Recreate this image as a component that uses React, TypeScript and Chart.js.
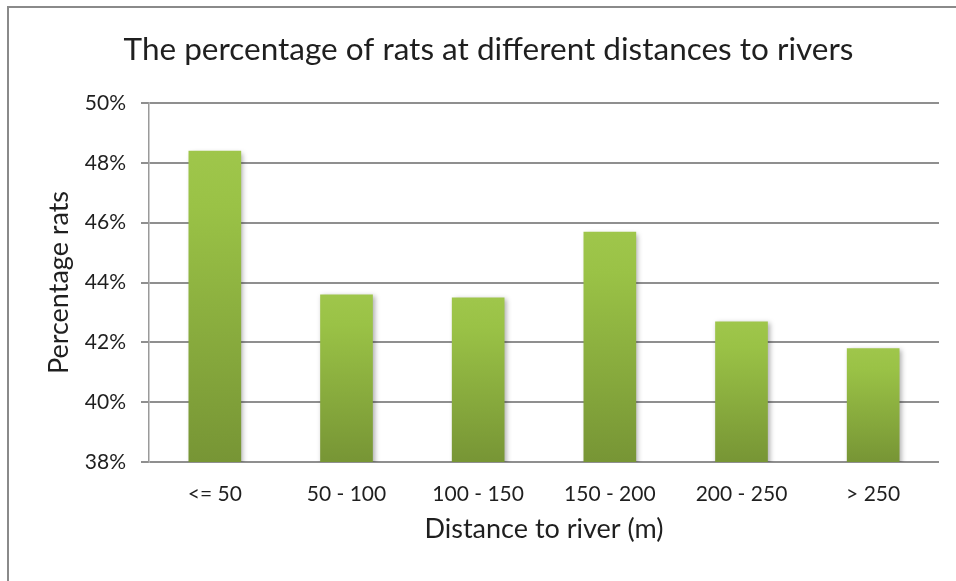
import React, { useEffect, useRef } from "react";
import { Chart, registerables } from "chart.js";

Chart.register(...registerables);

// Share of rats found in each distance band from the nearest river
const distanceBands: string[] = ["<= 50", "50 - 100", "100 - 150", "150 - 200", "200 - 250", "> 250"];
const ratPercent: number[] = [48.4, 43.6, 43.5, 45.7, 42.7, 41.8];

const yMin = 38;
const yMax = 50;
const yStep = 2;

const CANVAS_W = 959;
const CANVAS_H = 590;
const FONT = "Lato, 'Open Sans', sans-serif";
const TEXT = "#1f1f1f";
const GRID = "#8f8f8f";

// Soft drop shadow behind the bars
const barShadow = {
  id: "barShadow",
  beforeDatasetsDraw(chart: any) {
    const ctx = chart.ctx;
    ctx.save();
    ctx.shadowColor = "rgba(0,0,0,0.32)";
    ctx.shadowBlur = 5;
    ctx.shadowOffsetX = 2;
    ctx.shadowOffsetY = 2;
  },
  afterDatasetsDraw(chart: any) {
    chart.ctx.restore();
  },
};

export default function App() {
  const canvasRef = useRef<HTMLCanvasElement | null>(null);

  useEffect(() => {
    const canvas = canvasRef.current;
    if (!canvas) return;

    const chart = new Chart(canvas, {
      type: "bar",
      data: {
        labels: distanceBands,
        datasets: [
          {
            data: ratPercent,
            barPercentage: 0.4,
            categoryPercentage: 1,
            borderWidth: 0,
            backgroundColor: (c: any) => {
              const ch = c.chart;
              const area = ch.chartArea;
              if (!area || c.type !== "data") return "#8db040";
              const y = ch.scales.y;
              const top = y.getPixelForValue(c.raw);
              const g = ch.ctx.createLinearGradient(0, top, 0, area.bottom);
              g.addColorStop(0, "#9fc64b");
              g.addColorStop(0.18, "#9ac246");
              g.addColorStop(1, "#779535");
              return g;
            },
          },
        ],
      },
      options: {
        animation: false,
        responsive: false,
        devicePixelRatio: 1,
        layout: { padding: 0 },
        plugins: {
          legend: { display: false },
          tooltip: { enabled: false },
          title: {
            display: true,
            text: "The percentage of rats at different distances to rivers",
            color: TEXT,
            font: { family: FONT, size: 31.5, weight: "normal" },
            padding: { top: 23, bottom: 34.2 },
          },
        },
        scales: {
          x: {
            grid: { display: false, drawTicks: false },
            border: { display: false },
            ticks: {
              color: TEXT,
              font: { family: FONT, size: 21 },
              padding: 20,
              maxRotation: 0,
            },
            title: {
              display: true,
              text: "Distance to river (m)",
              color: TEXT,
              font: { family: FONT, size: 27 },
              padding: { top: 0, bottom: 52.5 },
            },
            afterFit: (scale: any) => {
              scale.height = 136;
            },
          },
          y: {
            min: yMin,
            max: yMax,
            grid: {
              color: GRID,
              lineWidth: 2,
              drawTicks: true,
              tickLength: 8,
              tickColor: GRID,
            },
            border: { display: true, color: "#9a9a9a", width: 1.5 },
            ticks: {
              stepSize: yStep,
              color: TEXT,
              font: { family: FONT, size: 21 },
              padding: 15,
              callback: (v: any) => `${v}%`,
            },
            title: {
              display: true,
              text: "Percentage rats",
              color: TEXT,
              font: { family: FONT, size: 27 },
              padding: { top: 34, bottom: 0 },
            },
            afterFit: (scale: any) => {
              scale.width = 140;
            },
          },
          // empty right-hand margin so the plot ends short of the frame
          spacer: {
            type: "linear",
            position: "right",
            display: true,
            grid: { display: false, drawTicks: false },
            border: { display: false },
            ticks: { display: false },
            afterFit: (scale: any) => {
              scale.width = 29;
            },
          },
        },
      },
      plugins: [barShadow],
    } as any);

    return () => chart.destroy();
  }, []);

  return (
    <div
      style={{
        position: "absolute",
        left: 0,
        top: 0,
        width: 956,
        height: 581,
        overflow: "hidden",
        background: "#ffffff",
      }}
    >
      <div
        style={{
          position: "absolute",
          left: 7,
          top: 6,
          width: CANVAS_W,
          height: CANVAS_H,
          borderLeft: "2px solid #8a8a8a",
          borderTop: "2px solid #8a8a8a",
          background: "#ffffff",
        }}
      >
        <canvas
          ref={canvasRef}
          width={CANVAS_W}
          height={CANVAS_H}
          style={{ display: "block", width: CANVAS_W, height: CANVAS_H }}
        />
      </div>
    </div>
  );
}
